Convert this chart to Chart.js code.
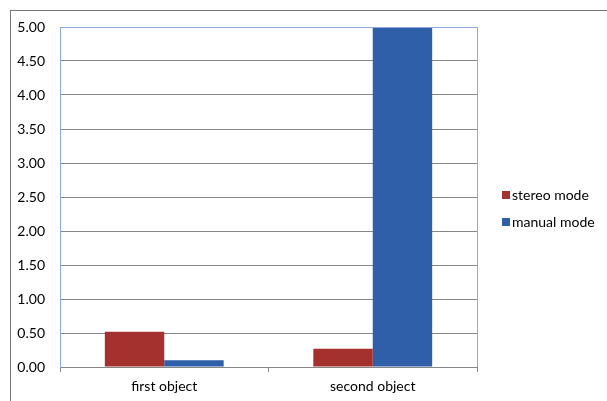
<!DOCTYPE html>
<html>
<head>
<meta charset="utf-8">
<script src="https://cdn.jsdelivr.net/npm/chart.js@4"></script>
<style>
  html, body { margin: 0; padding: 0; background: #fff; overflow: hidden; }
  #wrap { position: relative; width: 607px; height: 401px; }
  #frame { position: absolute; left: 10px; top: 10px; width: 700px; height: 500px; border: 1px solid #777; box-sizing: border-box; }
  canvas { position: absolute; left: 0; top: 0; }
</style>
</head>
<body>
<div id="wrap">
  <div id="frame"></div>
  <canvas id="chart" width="607" height="401"></canvas>
</div>
<script>
// datos
const categories = ['first object', 'second object'];
const seriesNames = ['stereo mode', 'manual mode'];
const stereoMode = [0.52, 0.27];
const manualMode = [0.10, 5.00];
const seriesColors = ['#A5312F', '#2E5FA8'];

const FONT = 'Lato, "Liberation Sans", sans-serif';

// marco del área de trazado (arriba y a la derecha) y leyenda propia
const plotFrame = {
    id: 'plotFrame',
    afterDatasetsDraw(chart) {
        const a = chart.chartArea;
        const c = chart.ctx;
        c.save();
        c.strokeStyle = '#8EA9DB';
        c.lineWidth = 1;
        c.beginPath();
        c.moveTo(a.left, a.top + 0.5);
        c.lineTo(a.right + 0.5, a.top + 0.5);
        c.lineTo(a.right + 0.5, a.bottom);
        c.stroke();

        // leyenda
        c.font = '14px ' + FONT;
        c.textBaseline = 'middle';
        c.fillStyle = '#000';
        chart.data.datasets.forEach(function (ds, i) {
            const y = 195 + i * 27;
            c.fillStyle = ds.backgroundColor;
            c.fillRect(502, y - 4, 8, 8);
            c.fillStyle = '#000';
            c.fillText(ds.label, 512, y);
        });
        c.restore();
    }
};

const ctx = document.getElementById('chart').getContext('2d');
new Chart(ctx, {
    type: 'bar',
    data: {
        labels: categories,
        datasets: [
            { label: seriesNames[0], data: stereoMode, backgroundColor: seriesColors[0] },
            { label: seriesNames[1], data: manualMode, backgroundColor: seriesColors[1] }
        ]
    },
    options: {
        responsive: false,
        animation: false,
        categoryPercentage: 0.57,
        barPercentage: 1.0,
        layout: { padding: { left: 0, right: 130, top: 27, bottom: 0 } },
        plugins: {
            legend: { display: false },
            tooltip: { enabled: false }
        },
        scales: {
            x: {
                afterFit(scale) { scale.height = 34; },
                grid: { drawOnChartArea: false, drawTicks: true, tickLength: 5, color: '#888' },
                border: { color: '#888' },
                ticks: { color: '#000', padding: 6, font: { family: FONT, size: 14 } }
            },
            y: {
                min: 0,
                max: 5,
                afterFit(scale) { scale.width = 60; },
                grid: { drawTicks: false, color: '#888' },
                border: { color: '#8EA9DB' },
                ticks: {
                    stepSize: 0.5,
                    padding: 15,
                    color: '#000',
                    font: { family: FONT, size: 14 },
                    callback: function (v) { return Number(v).toFixed(2); }
                }
            }
        }
    },
    plugins: [plotFrame]
});
</script>
</body>
</html>
